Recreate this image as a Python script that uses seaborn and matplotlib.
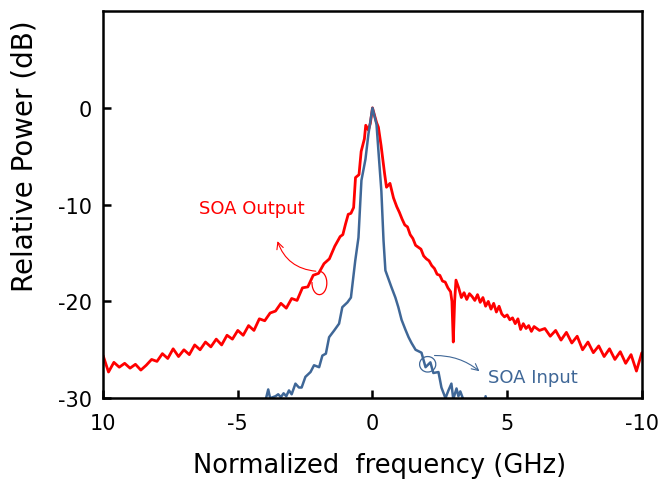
import numpy as np
import pandas as pd
import seaborn as sns
import matplotlib
matplotlib.use("Agg")
import matplotlib.pyplot as plt
from matplotlib.patches import Arc

# ---- data ----
red_x = [-10.0, -9.8, -9.6, -9.4, -9.2, -9.0, -8.8, -8.6, -8.4, -8.2, -8.0, -7.8, -7.6, -7.4, -7.2,
         -7.0, -6.8, -6.6, -6.4, -6.2, -6.0, -5.8, -5.6, -5.4, -5.2, -5.0, -4.8, -4.6, -4.4, -4.2,
         -4.0, -3.8, -3.6, -3.4, -3.2, -3.0, -2.8, -2.6, -2.4, -2.2, -2.0, -1.8, -1.6, -1.4, -1.2,
         -1.1, -1.0, -0.9, -0.8, -0.7, -0.63, -0.5, -0.42, -0.3, -0.25, -0.15, -0.08, 0.0,
         0.08, 0.15, 0.22, 0.32, 0.45, 0.52, 0.65, 0.78, 0.9, 1.0, 1.1, 1.2, 1.3, 1.4, 1.5, 1.6,
         1.7, 1.8, 1.9, 2.0, 2.1, 2.2, 2.3, 2.4, 2.5, 2.6, 2.7, 2.8, 2.9, 2.95, 3.0, 3.05, 3.1,
         3.2, 3.3, 3.4, 3.5, 3.6, 3.7, 3.8, 3.9, 4.0, 4.1, 4.2, 4.3, 4.4, 4.5, 4.6, 4.7, 4.8, 4.9,
         5.0, 5.1, 5.2, 5.3, 5.4, 5.5, 5.6, 5.7, 5.8, 5.9, 6.0, 6.2, 6.4, 6.6, 6.8, 7.0, 7.2, 7.4,
         7.6, 7.8, 8.0, 8.2, 8.4, 8.6, 8.8, 9.0, 9.2, 9.4, 9.6, 9.8, 10.0]
red_y = [-25.6, -27.3, -26.3, -26.8, -26.4, -26.9, -26.5, -27.1, -26.6, -26.0, -26.2, -25.4, -25.9, -24.9, -25.7,
         -25.0, -25.5, -24.5, -25.0, -24.2, -24.7, -23.9, -24.5, -23.5, -23.9, -23.0, -23.5, -22.5, -23.0, -21.8,
         -22.0, -21.2, -21.0, -20.2, -20.7, -19.7, -19.9, -18.6, -18.5, -17.3, -17.1, -16.1, -15.6, -14.3, -13.3,
         -13.1, -12.0, -11.0, -10.9, -10.3, -7.2, -6.9, -4.5, -3.2, -1.8, -2.3, -1.6, 0.0,
         -0.8, -1.5, -2.0, -3.9, -6.8, -8.2, -7.8, -9.3, -10.2, -10.8, -11.5, -12.1, -12.3, -13.1, -13.5, -14.2,
         -14.4, -14.6, -15.3, -15.6, -15.8, -16.3, -16.6, -17.2, -17.3, -17.9, -18.0, -18.6, -19.0, -20.0, -24.2, -20.0, -17.8,
         -18.6, -19.6, -19.1, -19.8, -19.2, -19.5, -19.9, -19.3, -20.1, -19.6, -20.5, -20.0, -20.8, -20.2, -21.1, -20.5, -21.3, -21.6,
         -21.4, -21.9, -21.7, -22.3, -21.8, -22.9, -22.3, -22.8, -22.5, -23.1, -22.6, -23.0, -22.8, -23.6, -23.0, -24.0, -23.2, -24.3,
         -23.6, -25.0, -24.2, -25.3, -24.6, -25.7, -24.9, -26.0, -25.2, -26.4, -25.5, -27.2, -25.3]

blue_x = [-4.05, -3.95, -3.87, -3.8, -3.6, -3.5, -3.4, -3.3, -3.2, -3.1, -3.0, -2.86, -2.73, -2.63, -2.49,
          -2.3, -2.17, -1.98, -1.86, -1.73, -1.61, -1.42, -1.24, -1.12, -0.93, -0.8, -0.64, -0.52, -0.45,
          -0.41, -0.26, -0.15, 0.0, 0.15, 0.22, 0.33, 0.41, 0.48, 0.7, 0.85, 0.96, 1.08, 1.22, 1.34, 1.45,
          1.6, 1.82, 1.97, 2.15, 2.26, 2.45, 2.56, 2.71, 2.82, 2.93, 3.0, 3.12, 3.19, 3.26, 3.38, 3.45,
          4.15, 4.2, 4.25]
blue_y = [-31.0, -30.0, -29.1, -30.0, -29.8, -29.6, -29.9, -29.5, -29.8, -29.2, -29.6, -28.5, -28.9, -28.9, -27.8,
          -27.3, -26.6, -26.8, -25.6, -25.4, -23.7, -23.0, -22.3, -20.6, -20.1, -19.6, -15.8, -13.4, -9.6,
          -7.5, -5.3, -2.7, 0.0, -1.7, -4.4, -8.6, -13.7, -16.8, -18.5, -19.6, -20.6, -21.9, -22.9, -23.7, -24.3,
          -25.0, -25.3, -26.8, -26.3, -27.4, -27.3, -28.9, -30.0, -29.2, -28.5, -30.1, -29.0, -29.8, -29.3, -30.2, -31.0,
          -31.0, -29.8, -31.0]

x_ticks = [-10, -5, 0, 5, 10]
x_tick_labels = ["10", "-5", "0", "5", "-10"]
y_ticks = [0, -10, -20, -30]

RED = "#ff0000"
BLUE = "#3f6797"

sns.set_theme(style="white")
plt.rcParams["font.family"] = ["DejaVu Sans"]

fig = plt.figure(figsize=(6.61, 4.85), dpi=100)
ax = fig.add_axes([0.156, 0.177, 0.815, 0.798])

red_df = pd.DataFrame({"x": red_x, "y": red_y})
blue_df = pd.DataFrame({"x": blue_x, "y": blue_y})
sns.lineplot(data=red_df, x="x", y="y", color=RED, lw=2.0, ax=ax, sort=False)
sns.lineplot(data=blue_df, x="x", y="y", color=BLUE, lw=1.8, ax=ax, sort=False)

ax.set_xlim(-10, 10)
ax.set_ylim(-30, 10)
ax.set_xticks(x_ticks)
ax.set_xticklabels(x_tick_labels)
ax.set_yticks(y_ticks)
ax.set_yticklabels([str(v) for v in y_ticks])
ax.tick_params(direction="in", length=6, width=1.8, colors="black", labelsize=15,
               bottom=True, left=True, top=False, right=False)
ax.tick_params(axis="x", pad=11)
ax.tick_params(axis="y", pad=8)
for s in ax.spines.values():
    s.set_color("black")
    s.set_linewidth(1.8)
ax.set_xlabel("Normalized  frequency (GHz)", fontsize=18.5, color="black")
ax.set_ylabel("Relative Power (dB)", fontsize=20, color="black")
ax.xaxis.set_label_coords(0.514, -0.14)
ax.yaxis.set_label_coords(-0.12, 0.628)

# annotations
ax.text(-4.49, -10.3, "SOA Output", color=RED, fontsize=13, ha="center", va="center")
ax.annotate("", xy=(-3.56, -13.5), xytext=(-2.0, -16.9),
            arrowprops=dict(arrowstyle="->", color=RED, lw=0.8,
                            connectionstyle="arc3,rad=-0.35", mutation_scale=12))
ax.add_patch(Arc((-1.97, -18.1), 0.55, 2.4, theta1=-200, theta2=90, color=RED, lw=0.9))

ax.text(4.3, -27.8, "SOA Input", color=BLUE, fontsize=13, ha="left", va="center")
ax.annotate("", xy=(4.05, -27.4), xytext=(2.2, -25.6),
            arrowprops=dict(arrowstyle="->", color=BLUE, lw=0.8,
                            connectionstyle="arc3,rad=-0.2", mutation_scale=12))
ax.add_patch(Arc((2.05, -26.5), 0.6, 1.6, theta1=0, theta2=360, color=BLUE, lw=0.9))

fig.savefig("out.png", dpi=100)
